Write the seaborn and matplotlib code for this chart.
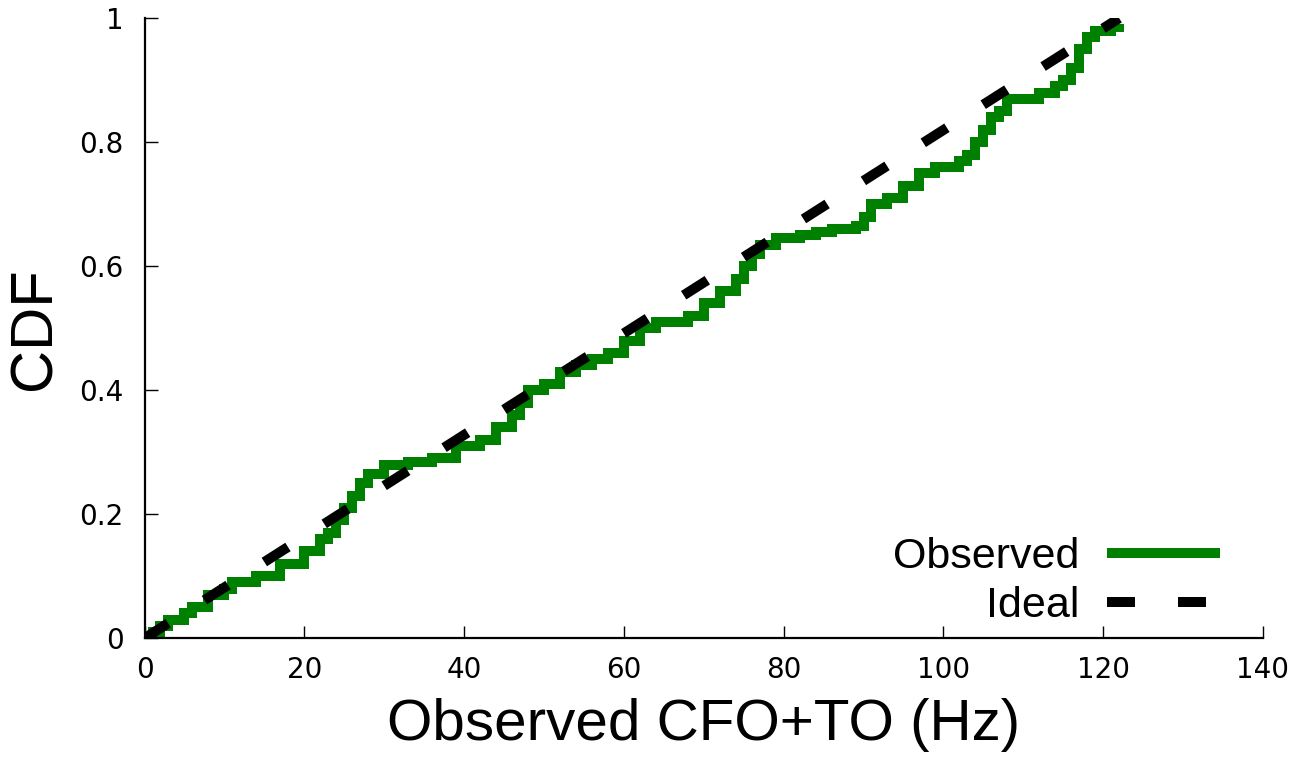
import numpy as np
import pandas as pd
import matplotlib
matplotlib.use("Agg")
import matplotlib.pyplot as plt
import seaborn as sns

sns.set_style("ticks")
plt.rcParams["text.color"] = "black"
plt.rcParams["axes.labelcolor"] = "black"

# Observed CDF
obs_hz = [0, 1, 2, 3, 5, 6, 8, 10, 11, 14, 17, 20, 22, 23, 24, 25, 26, 27, 28,
          30, 33, 36, 39, 42, 44, 46, 47, 48, 50, 52, 54, 56, 58, 60, 62, 64, 66,
          68, 70, 72, 74, 75, 76, 77, 79, 82, 84, 86, 89, 90, 91, 93, 95, 97, 99,
          102, 103, 104, 105, 106, 107, 108, 111, 112, 114, 115, 116, 117, 118,
          119, 121, 122]
obs_cdf = [0.0, 0.01, 0.02, 0.03, 0.04, 0.05, 0.07, 0.08, 0.09, 0.10, 0.12, 0.14,
           0.16, 0.17, 0.19, 0.21, 0.23, 0.25, 0.265, 0.28, 0.285, 0.29, 0.31,
           0.32, 0.34, 0.36, 0.38, 0.40, 0.41, 0.43, 0.44, 0.45, 0.46, 0.48, 0.50,
           0.51, 0.51, 0.52, 0.54, 0.56, 0.58, 0.60, 0.62, 0.635, 0.645, 0.65,
           0.655, 0.66, 0.665, 0.68, 0.70, 0.71, 0.73, 0.75, 0.76, 0.77, 0.78,
           0.80, 0.82, 0.84, 0.85, 0.87, 0.87, 0.88, 0.89, 0.90, 0.92, 0.95, 0.97,
           0.98, 0.985, 0.99]

# Ideal (uniform) CDF
ideal_hz = [0, 122]
ideal_cdf = [0.0, 1.0]

obs = pd.DataFrame({"hz": obs_hz, "cdf": obs_cdf})
ideal = pd.DataFrame({"hz": ideal_hz, "cdf": ideal_cdf})

fig = plt.figure(figsize=(13.02, 7.58), dpi=100)
ax = fig.add_axes([0.111, 0.158, 0.859, 0.818])

sns.lineplot(data=obs, x="hz", y="cdf", ax=ax, color="#008000", linewidth=7.2,
             drawstyle="steps-post", label="Observed", solid_capstyle="butt",
             solid_joinstyle="miter")
sns.lineplot(data=ideal, x="hz", y="cdf", ax=ax, color="black", linewidth=7.2,
             label="Ideal")
ax.lines[-1].set_dashes((2.8, 4.3))

ax.set_xlim(0, 140)
ax.set_ylim(0, 1)
ax.set_xticks(np.arange(0, 141, 20))
ax.set_yticks([0, 0.2, 0.4, 0.6, 0.8, 1])
ax.set_yticklabels(["0", "0.2", "0.4", "0.6", "0.8", "1"])
ax.tick_params(direction="in", length=9, width=1, labelsize=20, colors="black")
ax.tick_params(axis="x", pad=13)
ax.tick_params(axis="y", pad=15)
for s in ["top", "right"]:
    ax.spines[s].set_visible(False)
for s in ["left", "bottom"]:
    ax.spines[s].set_linewidth(1.6)
    ax.spines[s].set_color("black")

ax.set_xlabel("Observed CFO+TO (Hz)", fontsize=42, family="Liberation Sans",
              labelpad=10)
ax.set_ylabel("CDF", fontsize=43, family="Liberation Sans", labelpad=12)

leg = ax.legend(loc="lower right", bbox_to_anchor=(0.9615, 0.02),
                borderaxespad=0, borderpad=0, frameon=False,
                markerfirst=False, handlelength=2.63, handletextpad=0.63,
                labelspacing=0.2, prop={"family": "Liberation Sans", "size": 31})

fig.savefig("out.png", dpi=100)
